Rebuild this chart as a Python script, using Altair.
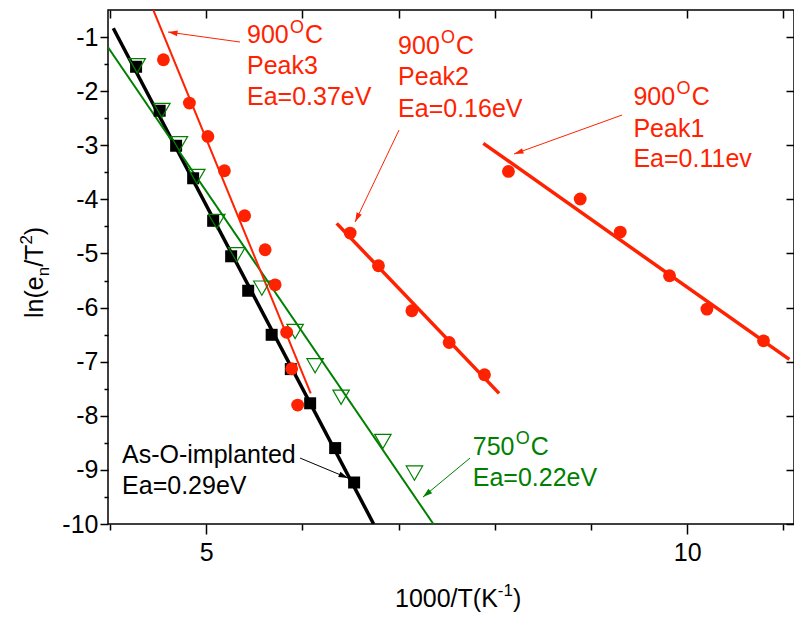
import math
import altair as alt
import pandas as pd

# ---------------- axis ranges & plot size ----------------
X_MIN, X_MAX = 3.98, 11.11
Y_MIN, Y_MAX = -10.0, -0.5
W, H = 686, 514

RED = "#ff2200"
GREEN = "#008000"
BLACK = "#000000"
FONT = "Liberation Sans"

# ---------------- data ----------------
# As-O-implanted (black squares)
as_x = [4.272, 4.517, 4.688, 4.865, 5.073, 5.260, 5.437, 5.681, 5.880, 6.081, 6.341, 6.538]
as_y = [-1.549, -2.362, -3.009, -3.610, -4.396, -5.052, -5.689, -6.503, -7.137, -7.769, -8.597, -9.233]
# 750 C (green open down-triangles)
g750_x = [4.283, 4.540, 4.722, 4.903, 5.111, 5.319, 5.579, 5.925, 6.133, 6.403, 6.837, 7.165]
g750_y = [-1.531, -2.357, -2.972, -3.577, -4.408, -5.024, -5.640, -6.442, -7.076, -7.658, -8.475, -9.059]
# 900 C peak3 / peak2 / peak1 (red circles)
p3_x = [4.556, 4.826, 5.018, 5.190, 5.400, 5.613, 5.717, 5.837, 5.889, 5.951]
p3_y = [-1.420, -2.220, -2.837, -3.471, -4.303, -4.932, -5.579, -6.457, -7.131, -7.802]
p2_x = [6.497, 6.791, 7.138, 7.526, 7.893]
p2_y = [-4.623, -5.227, -6.059, -6.645, -7.242]
p1_x = [8.142, 8.888, 9.304, 9.816, 10.205, 10.793]
p1_y = [-3.484, -3.994, -4.604, -5.412, -6.028, -6.614]

# fitted lines (end points): as, 750, peak3, peak2, peak1
fit_x1 = [4.035, 3.98, 4.451, 6.357, 7.881]
fit_y1 = [-0.838, -1.19, -0.50, -4.443, -2.964]
fit_x2 = [6.741, 7.362, 6.087, 8.045, 11.062]
fit_y2 = [-10.0, -10.0, -7.585, -7.585, -6.957]
fit_col = [BLACK, GREEN, RED, RED, RED]
fit_w = [3.5, 2.0, 2.0, 3.5, 3.5]

# annotation arrows (start -> tip), data coordinates
arr_x1 = [5.352, 7.005, 9.323, 5.976, 7.743]
arr_y1 = [-1.092, -2.718, -2.441, -8.781, -8.781]
arr_x2 = [4.604, 6.548, 8.200, 6.475, 7.254]
arr_y2 = [-0.907, -4.419, -3.162, -9.151, -9.502]
arr_col = [RED, RED, RED, BLACK, GREEN]

# annotation texts (left / baseline anchor), data coordinates
lbl_text = ["900", "C", "Peak3", "Ea=0.37eV",
            "900", "C", "Peak2", "Ea=0.16eV",
            "900", "C", "Peak1", "Ea=0.11ev",
            "As-O-implanted", "Ea=0.29eV",
            "750", "C", "Ea=0.22eV"]
lbl_x = [5.425, 6.028, 5.425, 5.425,
         6.995, 7.597, 6.995, 6.995,
         9.441, 10.046, 9.441, 9.441,
         4.126, 4.126,
         7.771, 8.374, 7.771]
lbl_y = [-1.116, -1.116, -1.692, -2.265,
         -1.313, -1.313, -1.892, -2.472,
         -2.256, -2.256, -2.842, -3.397,
         -8.873, -9.446,
         -8.726, -8.726, -9.299]
lbl_col = [RED] * 12 + [BLACK] * 2 + [GREEN] * 3
sup_text = ["O", "O", "O", "O"]
sup_x = [5.872, 7.442, 9.890, 8.218]
sup_y = [-0.920, -1.117, -2.060, -8.530]
sup_col = [RED, RED, RED, GREEN]

x_ticks = [4, 5, 6, 7, 8, 9, 10, 11]
y_ticks = [-10 + 0.5 * i for i in range(19)]
y_ticks_major = [-10 + i for i in range(10)]

# ---------------- build tables ----------------
xs = alt.Scale(domain=[X_MIN, X_MAX], nice=False, zero=False)
ys = alt.Scale(domain=[Y_MIN, Y_MAX], nice=False, zero=False)

fits = pd.DataFrame({"x1": fit_x1, "y1": fit_y1, "x2": fit_x2, "y2": fit_y2,
                     "c": fit_col, "w": fit_w})
pts_as = pd.DataFrame({"x": as_x, "y": as_y})
pts_750 = pd.DataFrame({"x": g750_x, "y": g750_y})
pts_900 = pd.DataFrame({"x": p3_x + p2_x + p1_x, "y": p3_y + p2_y + p1_y})

pxx = W / (X_MAX - X_MIN)
pxy = H / (Y_MAX - Y_MIN)
angles = []
for a, b, c, d in zip(arr_x1, arr_y1, arr_x2, arr_y2):
    ang = math.degrees(math.atan2(-(d - b) * pxy, (c - a) * pxx)) % 360
    angles.append(ang)
arrows = pd.DataFrame({"x1": arr_x1, "y1": arr_y1, "x2": arr_x2, "y2": arr_y2,
                       "c": arr_col, "ang": angles})
labels = pd.DataFrame({"t": lbl_text, "x": lbl_x, "y": lbl_y, "c": lbl_col})
sups = pd.DataFrame({"t": sup_text, "x": sup_x, "y": sup_y, "c": sup_col})

bottom_axis = alt.Axis(values=x_ticks, orient="bottom", title=None, grid=False, domain=False,
                       labelExpr="datum.value == 5 || datum.value == 10 ? datum.label : ''",
                       tickSize={"condition": {"test": "datum.value == 5 || datum.value == 10", "value": 10},
                                 "value": 6},
                       tickColor="black", tickWidth=1.5, labelFont=FONT, labelFontSize=25,
                       labelColor="black", labelPadding=6, labelFlush=False, labelOverlap=False)
left_axis = alt.Axis(values=y_ticks, orient="left", title=None, grid=False, domain=False,
                     labelExpr="datum.value % 1 === 0 ? '-' + abs(datum.value) : ''",
                     tickSize={"condition": {"test": "datum.value % 1 === 0", "value": 8}, "value": 4},
                     tickColor="black", tickWidth=1.5, labelFont=FONT, labelFontSize=25,
                     labelColor="black", labelPadding=2, labelFlush=False, labelOverlap=False)
top_axis = alt.Axis(values=x_ticks, orient="top", title=None, grid=False, domain=False,
                    labels=False, tickSize=8, offset=-8, tickColor="black", tickWidth=1.5)
right_axis = alt.Axis(values=y_ticks_major, orient="right", title=None, grid=False, domain=False,
                      labels=False, tickSize=8, offset=-8, tickColor="black", tickWidth=1.5)

fit_layer = alt.Chart(fits).mark_rule(clip=True, strokeCap="butt").encode(
    x=alt.X("x1:Q", scale=xs, axis=bottom_axis),
    y=alt.Y("y1:Q", scale=ys, axis=left_axis),
    x2="x2:Q", y2="y2:Q",
    color=alt.Color("c:N", scale=None),
    strokeWidth=alt.StrokeWidth("w:Q", scale=None),
)

sq_layer = alt.Chart(pts_as).mark_point(shape="square", filled=True, size=144,
                                        color=BLACK, opacity=1).encode(
    x=alt.X("x:Q", scale=xs, axis=top_axis),
    y=alt.Y("y:Q", scale=ys, axis=right_axis),
)
tri_layer = alt.Chart(pts_750).mark_point(shape="triangle-down", filled=False, size=270,
                                          stroke=GREEN, strokeWidth=1.2, opacity=1).encode(
    x=alt.X("x:Q", scale=xs, axis=None),
    y=alt.Y("y:Q", scale=ys, axis=None),
)
circ_layer = alt.Chart(pts_900).mark_circle(size=165, color=RED, opacity=1).encode(
    x=alt.X("x:Q", scale=xs, axis=None),
    y=alt.Y("y:Q", scale=ys, axis=None),
)
arrow_lines = alt.Chart(arrows).mark_rule(strokeWidth=1).encode(
    x=alt.X("x1:Q", scale=xs, axis=None),
    y=alt.Y("y1:Q", scale=ys, axis=None),
    x2="x2:Q", y2="y2:Q",
    color=alt.Color("c:N", scale=None),
)
arrow_heads = alt.Chart(arrows).mark_point(shape="M0,0L-2,-0.6L-2,0.6Z", filled=True,
                                           size=90, opacity=1, strokeWidth=0).encode(
    x=alt.X("x2:Q", scale=xs, axis=None),
    y=alt.Y("y2:Q", scale=ys, axis=None),
    color=alt.Color("c:N", scale=None),
    angle=alt.Angle("ang:Q", scale=None),
)
label_layer = alt.Chart(labels).mark_text(align="left", baseline="alphabetic",
                                          font=FONT, fontSize=25).encode(
    x=alt.X("x:Q", scale=xs, axis=None),
    y=alt.Y("y:Q", scale=ys, axis=None),
    text="t:N",
    color=alt.Color("c:N", scale=None),
)
sup_layer = alt.Chart(sups).mark_text(align="left", baseline="alphabetic",
                                      font=FONT, fontSize=18).encode(
    x=alt.X("x:Q", scale=xs, axis=None),
    y=alt.Y("y:Q", scale=ys, axis=None),
    text="t:N",
    color=alt.Color("c:N", scale=None),
)

dummy = pd.DataFrame({"a": [0]})


def title_piece(txt, x, y, size, angle=0):
    return alt.Chart(dummy).mark_text(text=txt, align="left", baseline="alphabetic",
                                      font=FONT, fontSize=size, angle=angle,
                                      color="black").encode(x=alt.value(x), y=alt.value(y))


titles = [
    title_piece("1000/T(K", 287, 597, 25),
    title_piece("-1", 389.8, 586, 17),
    title_piece(")", 404.9, 597, 25),
    title_piece("ln(e", -65, 308, 25, 270),
    title_piece("n", -59, 266.3, 17, 270),
    title_piece("/T", -65, 256.85, 25, 270),
    title_piece("2", -76, 234.6, 17, 270),
    title_piece(")", -65, 225.2, 25, 270),
]

chart = alt.layer(
    fit_layer, sq_layer, tri_layer, circ_layer, arrow_lines, arrow_heads,
    label_layer, sup_layer, *titles
).resolve_axis(x="independent", y="independent").properties(
    width=W, height=H,
    padding={"left": 100, "top": 2, "right": 0, "bottom": 90},
    autosize=alt.AutoSizeParams(type="none"),
).configure_view(stroke="black", strokeWidth=1.5)

chart.save("out.html", embed_options={"renderer": "svg", "actions": False})
